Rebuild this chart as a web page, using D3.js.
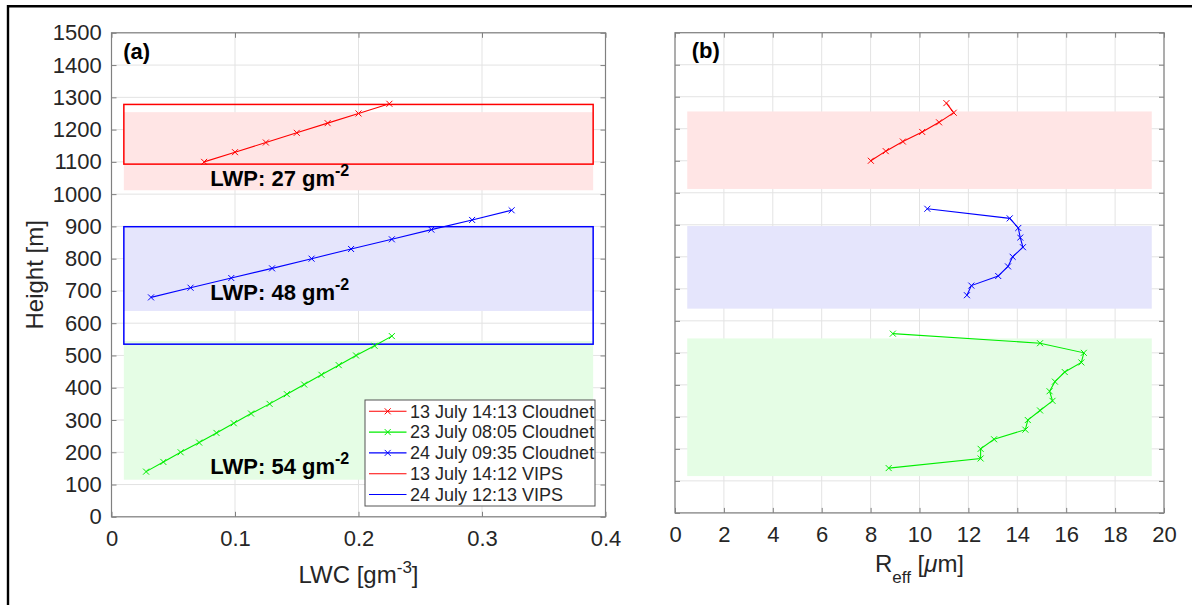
<!DOCTYPE html>
<html>
<head>
<meta charset="utf-8">
<script src="https://cdn.jsdelivr.net/npm/d3@7"></script>
<style>
  html, body { margin: 0; padding: 0; background: #fff; }
  svg { display: block; font-family: "Liberation Sans", Arial, Helvetica, sans-serif; }
</style>
</head>
<body>
<svg id="chart" width="1192" height="605"></svg>
<script>
// Cloudnet profiles: height [m], liquid water content [g m^-3], effective radius [um]
const heightRed = [1100, 1130, 1160, 1190, 1220, 1250, 1280];
const lwcRed = [0.075, 0.100, 0.125, 0.150, 0.175, 0.200, 0.225];
const reffRed = [8.01, 8.62, 9.32, 10.11, 10.80, 11.40, 11.10];

const heightGreen = [140, 170, 200, 230, 260, 290, 320, 350, 380, 410, 440, 470, 500, 530, 560];
const lwcGreen = [0.028, 0.042, 0.056, 0.071, 0.085, 0.099, 0.113, 0.128, 0.142, 0.156, 0.170, 0.184, 0.198, 0.213, 0.227];
const reffGreen = [8.74, 12.50, 12.50, 13.05, 14.33, 14.43, 14.93, 15.44, 15.32, 15.54, 15.94, 16.62, 16.72, 14.93, 8.91];

const heightBlue = [680, 710, 740, 770, 800, 830, 860, 890, 920, 950];
const lwcBlue = [0.032, 0.064, 0.097, 0.130, 0.162, 0.194, 0.227, 0.259, 0.292, 0.324];
const reffBlue = [11.94, 12.12, 13.22, 13.62, 13.81, 14.23, 14.12, 14.04, 13.69, 10.32];

// Cloud layers (shaded) for the three Cloudnet cases: red, blue, green
const layerColors = ["#ffe5e5", "#e5e5fc", "#e5fde5"];
const layerBottom = [1012, 638, 115];
const layerTop = [1254, 896, 545];

// VIPS cloud layers (outlined)
const vipsColors = ["#ff0000", "#0000ff"];
const vipsBottom = [1093, 535];
const vipsTop = [1278, 899];

// Liquid water path annotations
const lwpValues = [27, 48, 54];
const lwpHeights = [1026, 672, 133];
const lwpLwc = 0.08;

const legendLabels = [
  "13 July 14:13 Cloudnet",
  "23 July 08:05 Cloudnet",
  "24 July 09:35 Cloudnet",
  "13 July 14:12 VIPS",
  "24 July 12:13 VIPS"
];

const heightTicks = d3.range(0, 1501, 100);
const lwcTicks = [0, 0.1, 0.2, 0.3, 0.4];
const lwcTickLabels = ["0", "0.1", "0.2", "0.3", "0.4"];
const reffTicks = d3.range(0, 21, 2);

const RED = "#ff0000", GREEN = "#00ee00", BLUE = "#0000ff";
const AXIS = "#808080", GRID = "#e3e3e3", LABEL = "#262626";

const svg = d3.select("#chart");
svg.append("rect").attr("width", 1192).attr("height", 605).attr("fill", "#fff");

// outer frame
svg.append("line").attr("x1", 7).attr("x2", 1192).attr("y1", 6.2).attr("y2", 6.2)
  .attr("stroke", "#000").attr("stroke-width", 2.4);
svg.append("line").attr("x1", 8).attr("x2", 8).attr("y1", 5).attr("y2", 605)
  .attr("stroke", "#000").attr("stroke-width", 2.4);

const xL = d3.scaleLinear().domain([0, 0.4]).range([111.5, 605.5]);
const yL = d3.scaleLinear().domain([0, 1500]).range([516.8, 32.8]);
const xR = d3.scaleLinear().domain([0, 20]).range([675, 1164]);
const yR = d3.scaleLinear().domain([0, 1500]).range([512.9, 32.7]);

function panel(x, y, xTicks, xFormat, showYLabels) {
  const g = svg.append("g");
  const [x0, x1] = x.range();
  const [y0, y1] = y.range();
  // grid
  g.append("g").selectAll("line.gx").data(xTicks).join("line")
    .attr("x1", d => x(d)).attr("x2", d => x(d)).attr("y1", y0).attr("y2", y1)
    .attr("stroke", GRID).attr("stroke-width", 1);
  g.append("g").selectAll("line.gy").data(heightTicks).join("line")
    .attr("x1", x0).attr("x2", x1).attr("y1", d => y(d)).attr("y2", d => y(d))
    .attr("stroke", GRID).attr("stroke-width", 1);
  return g;
}

function axes(x, y, xTicks, xFormat, showYLabels) {
  const [x0, x1] = x.range();
  const [y0, y1] = y.range();
  const style = sel => {
    sel.select(".domain").remove();
    sel.selectAll(".tick line").attr("stroke", AXIS).attr("stroke-width", 1);
    sel.selectAll(".tick text").attr("fill", LABEL).attr("font-size", 22)
      .attr("font-family", "Liberation Sans, Arial, sans-serif");
  };
  svg.append("g").attr("transform", `translate(0,${y0})`)
    .call(d3.axisBottom(x).tickValues(xTicks).tickFormat(xFormat).tickSizeInner(-5).tickSizeOuter(0).tickPadding(13.6))
    .call(style);
  svg.append("g").attr("transform", `translate(0,${y1})`)
    .call(d3.axisTop(x).tickValues(xTicks).tickFormat("").tickSizeInner(-5).tickSizeOuter(0))
    .call(style);
  svg.append("g").attr("transform", `translate(${x0},0)`)
    .call(d3.axisLeft(y).tickValues(heightTicks).tickFormat(showYLabels ? d3.format("d") : "").tickSizeInner(-5).tickSizeOuter(0).tickPadding(9.8))
    .call(style);
  svg.append("g").attr("transform", `translate(${x1},0)`)
    .call(d3.axisRight(y).tickValues(heightTicks).tickFormat("").tickSizeInner(-5).tickSizeOuter(0))
    .call(style);
  svg.append("rect").attr("x", x0).attr("y", y1).attr("width", x1 - x0).attr("height", y0 - y1)
    .attr("fill", "none").attr("stroke", AXIS).attr("stroke-width", 1.2);
}

function layers(g, x, y, xlo, xhi) {
  g.append("g").selectAll("rect").data(layerBottom).join("rect")
    .attr("x", x(xlo)).attr("width", x(xhi) - x(xlo))
    .attr("y", (d, i) => y(layerTop[i])).attr("height", (d, i) => y(d) - y(layerTop[i]))
    .attr("fill", (d, i) => layerColors[i]);
}

function crossPath(px, py, s) {
  return `M${px - s},${py - s}L${px + s},${py + s}M${px - s},${py + s}L${px + s},${py - s}`;
}

function profile(g, x, y, xs, hs, color) {
  const pts = xs.map((v, i) => [x(v), y(hs[i])]);
  g.append("path").attr("d", d3.line()(pts)).attr("fill", "none")
    .attr("stroke", color).attr("stroke-width", 1.1);
  g.append("path").attr("d", pts.map(p => crossPath(p[0], p[1], 3)).join(""))
    .attr("fill", "none").attr("stroke", color).attr("stroke-width", 1);
}

// ---------- panel (a): LWC ----------
const gA = panel(xL, yL, lwcTicks);
layers(gA, xL, yL, 0.01, 0.39);
gA.append("g").selectAll("rect").data(vipsBottom).join("rect")
  .attr("x", xL(0.01)).attr("width", xL(0.39) - xL(0.01))
  .attr("y", (d, i) => yL(vipsTop[i])).attr("height", (d, i) => yL(d) - yL(vipsTop[i]))
  .attr("fill", "none").attr("stroke", (d, i) => vipsColors[i]).attr("stroke-width", 1.5);
profile(gA, xL, yL, lwcRed, heightRed, RED);
profile(gA, xL, yL, lwcGreen, heightGreen, GREEN);
profile(gA, xL, yL, lwcBlue, heightBlue, BLUE);
axes(xL, yL, lwcTicks, (d, i) => lwcTickLabels[i], true);

// LWP annotations
lwpValues.forEach((v, i) => {
  const t = svg.append("text").attr("x", xL(lwpLwc)).attr("y", yL(lwpHeights[i]))
    .attr("font-size", 22).attr("font-weight", "bold").attr("fill", "#000");
  t.append("tspan").text(`LWP: ${v} gm`);
  t.append("tspan").attr("dy", -10).attr("font-size", 16).text("-2");
});

svg.append("text").attr("x", 123.3).attr("y", 59).attr("font-size", 22)
  .attr("font-weight", "bold").attr("fill", "#000").text("(a)");

// legend
const lg = svg.append("g");
lg.append("rect").attr("x", 365).attr("y", 400).attr("width", 230).attr("height", 106)
  .attr("fill", "#fff").attr("stroke", "#555").attr("stroke-width", 1);
const legendColors = [RED, GREEN, BLUE, RED, BLUE];
const legendY = d3.scaleLinear().domain([0, 4]).range([411.3, 494.5]);
legendLabels.forEach((lab, i) => {
  const ly = legendY(i);
  lg.append("line").attr("x1", 369).attr("x2", 406.5).attr("y1", ly).attr("y2", ly)
    .attr("stroke", legendColors[i]).attr("stroke-width", 1.1);
  if (i < 3) {
    lg.append("path").attr("d", crossPath(387.7, ly, 3)).attr("stroke", legendColors[i])
      .attr("stroke-width", 1).attr("fill", "none");
  }
  lg.append("text").attr("x", 410).attr("y", ly).attr("dy", "0.35em")
    .attr("font-size", 18).attr("fill", LABEL).text(lab);
});

// axis labels (a)
const xlabA = svg.append("text").attr("x", (xL.range()[0] + xL.range()[1]) / 2).attr("y", 583.3)
  .attr("text-anchor", "middle").attr("font-size", 24).attr("fill", LABEL);
xlabA.append("tspan").text("LWC [gm");
xlabA.append("tspan").attr("dy", -10).attr("font-size", 17).text("-3");
xlabA.append("tspan").attr("dy", 10).text("]");

svg.append("text").attr("transform", `translate(42.7,${(yL.range()[0] + yL.range()[1]) / 2}) rotate(-90)`)
  .attr("text-anchor", "middle").attr("font-size", 24).attr("fill", LABEL).text("Height [m]");

// ---------- panel (b): effective radius ----------
const gB = panel(xR, yR, reffTicks);
layers(gB, xR, yR, 0.5, 19.5);
profile(gB, xR, yR, reffRed, heightRed, RED);
profile(gB, xR, yR, reffGreen, heightGreen, GREEN);
profile(gB, xR, yR, reffBlue, heightBlue, BLUE);
axes(xR, yR, reffTicks, d3.format("d"), false);

svg.append("text").attr("x", 691.7).attr("y", 58).attr("font-size", 22)
  .attr("font-weight", "bold").attr("fill", "#000").text("(b)");

const xlabB = svg.append("text").attr("x", (xR.range()[0] + xR.range()[1]) / 2).attr("y", 571.7)
  .attr("text-anchor", "middle").attr("font-size", 24).attr("fill", LABEL);
xlabB.append("tspan").text("R");
xlabB.append("tspan").attr("dy", 11).attr("font-size", 17).text("eff");
xlabB.append("tspan").attr("dy", -11).text(" [");
xlabB.append("tspan").attr("font-style", "italic").text("μ");
xlabB.append("tspan").text("m]");
</script>
</body>
</html>
